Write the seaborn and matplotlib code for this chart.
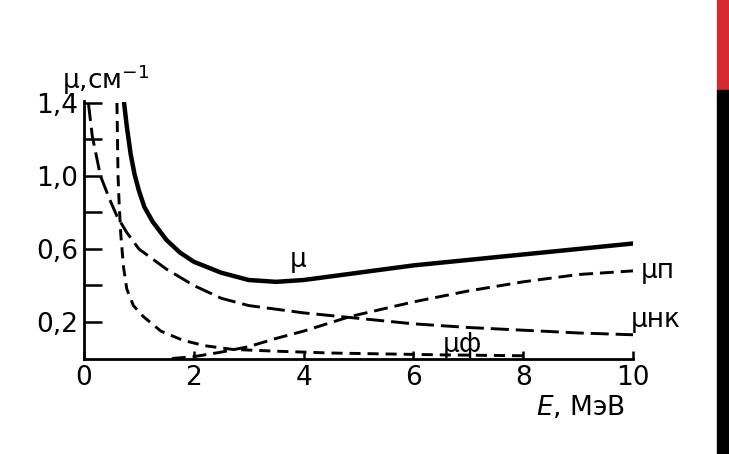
import matplotlib
matplotlib.use("Agg")
import matplotlib.pyplot as plt
import seaborn as sns
from matplotlib.patches import Rectangle

# total attenuation coefficient
E_mu = [0.73, 0.78, 0.85, 0.92, 1.0, 1.1, 1.25, 1.5, 1.75, 2.0, 2.5, 3.0, 3.5, 4.0, 5.0, 6.0, 7.0, 8.0, 9.0, 10.0]
mu = [1.40, 1.27, 1.12, 1.01, 0.92, 0.83, 0.75, 0.65, 0.58, 0.53, 0.47, 0.43, 0.42, 0.43, 0.47, 0.51, 0.54, 0.57, 0.60, 0.63]

# Compton part
E_nk = [0.08, 0.15, 0.3, 0.47, 0.6, 0.78, 1.0, 1.5, 2.0, 2.5, 3.0, 4.0, 5.0, 6.0, 7.0, 8.0, 9.0, 10.0]
mu_nk = [1.40, 1.22, 1.00, 0.87, 0.78, 0.69, 0.60, 0.49, 0.40, 0.33, 0.29, 0.25, 0.22, 0.19, 0.17, 0.155, 0.14, 0.13]

# photoeffect part
E_f = [0.60, 0.61, 0.62, 0.64, 0.67, 0.72, 0.78, 0.9, 1.08, 1.4, 1.8, 2.2, 2.7, 3.5, 4.5, 5.5, 6.5, 8.0]
mu_f = [1.40, 1.20, 1.00, 0.85, 0.68, 0.50, 0.38, 0.29, 0.23, 0.15, 0.10, 0.07, 0.05, 0.04, 0.03, 0.025, 0.02, 0.015]

# pair production part
E_p = [1.6, 2.0, 2.5, 3.0, 3.5, 4.0, 4.85, 6.0, 7.0, 8.0, 9.0, 10.0]
mu_p = [0.0, 0.01, 0.035, 0.065, 0.11, 0.15, 0.23, 0.31, 0.37, 0.42, 0.46, 0.48]

y_major = [0.2, 0.6, 1.0, 1.4]
y_minor = [0.4, 0.8, 1.2]
x_ticks = [0, 2, 4, 6, 8, 10]

sns.set_style("white")
plt.rcParams["font.family"] = ["DejaVu Sans"]
plt.rcParams["lines.scale_dashes"] = False
plt.rcParams["text.color"] = "black"
plt.rcParams["xtick.color"] = "black"
plt.rcParams["ytick.color"] = "black"

fig = plt.figure(figsize=(7.29, 4.54), dpi=100)
ax = fig.add_axes([84 / 729, 95.5 / 454, 549 / 729, 257 / 454])

sns.lineplot(x=E_mu, y=mu, ax=ax, color="black", linewidth=3.2)
sns.lineplot(x=E_nk, y=mu_nk, ax=ax, color="black", linewidth=2.1)
ax.lines[-1].set_dashes((13, 5))
sns.lineplot(x=E_f, y=mu_f, ax=ax, color="black", linewidth=2.1)
ax.lines[-1].set_dashes((8, 5))
sns.lineplot(x=E_p, y=mu_p, ax=ax, color="black", linewidth=2.1)
ax.lines[-1].set_dashes((10, 5))

ax.set_xlim(0, 10)
ax.set_ylim(0, 1.408)
for side in ["top", "right"]:
    ax.spines[side].set_visible(False)
for side in ["left", "bottom"]:
    ax.spines[side].set_color("black")
    ax.spines[side].set_linewidth(2)

ax.set_xticks(x_ticks)
ax.set_xticklabels([str(v) for v in x_ticks])
ax.set_yticks(y_major)
ax.set_yticklabels([f"{v:.1f}".replace(".", ",") for v in y_major])
ax.set_yticks(y_minor, minor=True)
ax.tick_params(axis="x", which="both", direction="in", length=6, width=1.8, labelsize=19, pad=5, bottom=True)
ax.tick_params(axis="y", which="both", direction="in", length=13, width=1.8, labelsize=19, pad=4, left=True)

fig.text(62 / 729, 1 - 80 / 454, "μ,см$^{-1}$", fontsize=19, va="center", ha="left")
fig.text(580 / 729, 1 - 408 / 454, "$\\it{E}$, МэВ", fontsize=19, va="center", ha="center")

ax.text(3.9, 0.54, "μ", fontsize=19, ha="center", va="center")
ax.text(10.15, 0.48, "μп", fontsize=19, ha="left", va="center")
ax.text(9.95, 0.21, "μнк", fontsize=19, ha="left", va="center")
ax.text(6.9, 0.075, "μф", fontsize=19, ha="center", va="center")

fig.patches.append(Rectangle((717 / 729, 1 - 90 / 454), 12 / 729, 90 / 454, transform=fig.transFigure, color="#d42a30", zorder=0))
fig.patches.append(Rectangle((717 / 729, 0), 12 / 729, 1 - 90 / 454, transform=fig.transFigure, color="black", zorder=0))

fig.savefig("out.png", dpi=100)
